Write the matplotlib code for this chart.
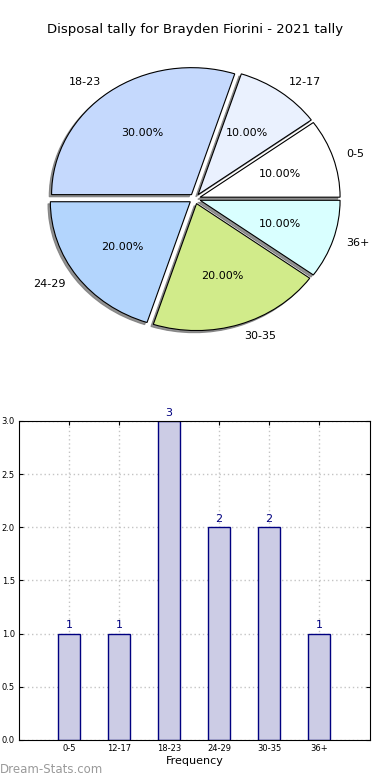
import matplotlib.pyplot as plt

categories = ['0-5', '12-17', '18-23', '24-29', '30-35', '36+']
counts = [1, 1, 3, 2, 2, 1]
pie_colors = ['#ffffff', '#eaf1fe', '#c5d9fd', '#b3d5fd', '#d1eb8a', '#d9ffff']

fig = plt.figure(figsize=(3.9, 7.8), dpi=100)

# pie on top (drawn slightly squashed, like the original)
ax1 = fig.add_axes([0.051, 0.5417, 0.897, 0.407])
wedges, texts, autotexts = ax1.pie(
    counts, labels=categories, colors=pie_colors, autopct='%.2f%%',
    explode=[0.04] * len(counts),
    shadow={'ox': -0.012, 'oy': -0.012, 'color': '#777777', 'alpha': 0.8},
    startangle=0, counterclock=True, labeldistance=1.1, pctdistance=0.6,
    wedgeprops={'edgecolor': 'black', 'linewidth': 0.8},
    textprops={'fontsize': 8})
ax1.set_aspect('auto')
ax1.set_xlim(-1.25, 1.25)
ax1.set_ylim(-1.25, 1.25)
fig.text(0.5, 0.962, 'Disposal tally for Brayden Fiorini - 2021 tally',
         ha='center', va='center', fontsize=9.5)

# frequency bars
ax2 = fig.add_axes([0.0487, 0.0513, 0.9, 0.409])
x = list(range(len(categories)))
bars = ax2.bar(x, counts, width=0.45, color='#ccccE5', edgecolor='navy',
               linewidth=1, zorder=2)
for xi, c in zip(x, counts):
    ax2.text(xi, c + 0.03, str(c), ha='center', va='bottom',
             color='navy', fontsize=8)
ax2.set_xlim(-1, 6.02)
ax2.set_ylim(0, 3)
ax2.set_xticks(x)
ax2.set_xticklabels(categories, fontsize=6)
ax2.set_yticks([0, 0.5, 1.0, 1.5, 2.0, 2.5, 3.0])
ax2.set_yticklabels(['0.0', '0.5', '1.0', '1.5', '2.0', '2.5', '3.0'], fontsize=6)
ax2.tick_params(direction='in', top=True, right=True, length=3, pad=3)
ax2.grid(True, linestyle=(0, (1, 2)), color='#c4c4c4', linewidth=1, zorder=3)
ax2.set_xlabel('Frequency', fontsize=8, labelpad=2)

fig.text(0.0, 0.013, 'Dream-Stats.com', color='#9a9a9a', fontsize=8.5,
         ha='left', va='center')

plt.savefig('out.png', dpi=100)
